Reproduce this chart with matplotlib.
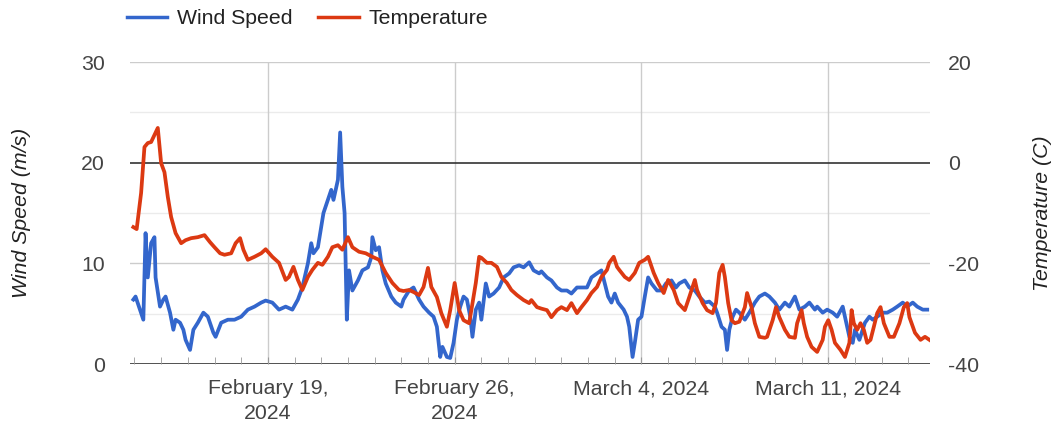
import matplotlib
matplotlib.use('Agg')
import matplotlib.pyplot as plt
import matplotlib.dates as mdates
from matplotlib.lines import Line2D
import pandas as pd

plt.rcParams['font.family'] = ['Liberation Sans', 'DejaVu Sans']
plt.rcParams['axes.unicode_minus'] = False

# readings, hours after 2024-02-13 20:00
start = pd.Timestamp('2024-02-13 20:00')

wind_hours = [3, 5, 9, 12, 14, 16, 19, 22, 23, 27,
              30, 32, 36, 39, 41, 45, 48, 50, 54, 57,
              61, 66, 70, 75, 77, 82, 88, 94, 100, 106,
              112, 118, 122, 128, 134, 140, 146, 151, 155, 160,
              163, 165, 169, 172, 174, 178, 181, 183, 187, 189,
              191, 193, 195, 197, 200, 205, 209, 214, 217, 218,
              221, 224, 227, 230, 235, 239, 244, 246, 251, 255,
              260, 264, 269, 273, 276, 279, 281, 285, 288, 291,
              294, 297, 300, 303, 306, 308, 311, 314, 316, 320,
              323, 327, 332, 336, 341, 345, 350, 354, 359, 363,
              368, 370, 375, 379, 384, 388, 393, 397, 402, 406,
              411, 415, 420, 424, 427, 430, 433, 436, 439, 444,
              447, 449, 452, 454, 457, 460, 463, 466, 469, 474,
              478, 482, 487, 491, 494, 499, 503, 508, 512, 517,
              521, 526, 528, 532, 535, 537, 539, 542, 545, 548,
              553, 557, 562, 566, 571, 575, 580, 584, 589, 593,
              598, 602, 607, 611, 616, 618, 623, 627, 632, 636,
              641, 643, 647, 650, 652, 656, 659, 661, 665, 668,
              672, 677, 681, 686, 690, 695, 699, 704, 708, 713,
              717]
wind_speed = [6.4, 6.7, 5.4, 4.4, 13.0, 8.6, 12.0, 12.6, 8.6, 5.7,
              6.4, 6.7, 5.1, 3.4, 4.4, 4.1, 3.4, 2.4, 1.4, 3.4,
              4.1, 5.1, 4.7, 3.1, 2.7, 4.1, 4.4, 4.4, 4.7, 5.4,
              5.7, 6.1, 6.3, 6.1, 5.4, 5.7, 5.4, 6.4, 7.6, 10.0,
              12.0, 11.0, 11.6, 13.6, 15.0, 16.3, 17.3, 16.3, 18.3, 23.0,
              17.6, 15.0, 4.4, 9.3, 7.3, 8.3, 9.3, 9.6, 10.6, 12.6,
              11.3, 11.6, 9.3, 8.0, 6.7, 6.1, 5.7, 6.4, 7.3, 7.6,
              6.4, 5.7, 5.1, 4.7, 3.7, 0.7, 1.7, 0.7, 0.6, 2.1,
              4.4, 5.7, 6.7, 6.4, 4.7, 2.7, 5.4, 6.1, 4.4, 8.0,
              6.7, 7.0, 7.6, 8.6, 9.0, 9.6, 9.8, 9.6, 10.1, 9.3,
              9.0, 9.2, 8.6, 8.3, 7.6, 7.3, 7.3, 7.0, 7.6, 7.6,
              7.6, 8.6, 9.0, 9.3, 8.0, 6.7, 6.1, 7.0, 6.1, 5.4,
              4.7, 3.7, 0.7, 2.1, 4.4, 4.7, 6.7, 8.6, 8.0, 7.3,
              7.3, 8.0, 8.3, 7.6, 8.0, 8.3, 7.6, 7.3, 6.7, 6.1,
              6.2, 5.7, 5.1, 3.7, 3.4, 1.4, 3.4, 4.7, 5.4, 5.1,
              4.4, 5.1, 6.1, 6.7, 7.0, 6.7, 6.1, 5.4, 6.1, 5.7,
              6.7, 5.4, 5.7, 6.1, 5.4, 5.7, 5.1, 5.4, 5.1, 4.7,
              5.7, 4.7, 2.7, 2.1, 3.4, 2.4, 3.4, 4.1, 4.7, 4.4,
              4.7, 5.1, 5.1, 5.4, 5.7, 6.1, 5.7, 6.1, 5.7, 5.4,
              5.4]

temp_hours = [3, 6, 10, 13, 16, 19, 22, 25, 28, 31,
              34, 37, 41, 46, 50, 55, 61, 67, 72, 76,
              81, 85, 91, 95, 99, 102, 106, 112, 118, 122,
              128, 134, 140, 143, 147, 151, 155, 160, 164, 169,
              173, 178, 182, 187, 191, 196, 200, 206, 212, 218,
              224, 230, 236, 242, 246, 251, 255, 260, 264, 268,
              271, 276, 280, 285, 288, 292, 296, 300, 305, 307,
              311, 314, 316, 321, 325, 330, 334, 339, 343, 348,
              354, 359, 361, 366, 370, 375, 379, 384, 388, 393,
              397, 402, 406, 411, 415, 420, 424, 429, 431, 435,
              438, 440, 445, 449, 454, 458, 463, 466, 471, 475,
              480, 484, 489, 493, 499, 503, 508, 510, 515, 519,
              524, 527, 530, 533, 535, 538, 541, 544, 548, 553,
              555, 559, 562, 566, 571, 573, 578, 581, 584, 589,
              593, 598, 600, 604, 606, 609, 613, 618, 623, 625,
              628, 631, 634, 639, 643, 647, 649, 651, 654, 657,
              660, 663, 666, 669, 672, 675, 678, 683, 687, 692,
              696, 699, 701, 706, 711, 715, 719]
temperature = [-12.8, -13.2, -6.0, 3.1, 3.9, 4.1, 5.5, 6.9, -0.1, -1.9,
               -6.8, -10.8, -14.0, -16.0, -15.4, -15.0, -14.8, -14.4, -15.8, -16.8,
               -18.0, -18.3, -18.0, -16.0, -15.0, -17.3, -19.3, -18.7, -18.0, -17.2,
               -18.7, -19.9, -23.3, -22.7, -20.7, -23.3, -25.3, -22.7, -21.3, -19.9,
               -20.3, -18.7, -16.8, -16.4, -17.3, -14.8, -16.8, -17.7, -18.0, -18.7,
               -19.3, -21.9, -23.9, -25.3, -25.5, -25.3, -25.7, -26.3, -24.7, -20.9,
               -24.7, -26.7, -29.9, -32.6, -29.3, -23.9, -29.3, -31.3, -31.9, -29.3,
               -23.9, -18.7, -18.9, -19.9, -19.9, -20.7, -22.7, -23.9, -25.3, -26.3,
               -27.3, -27.9, -27.3, -28.7, -29.0, -29.3, -30.7, -29.3, -28.7, -29.3,
               -27.9, -29.9, -28.7, -27.3, -25.9, -24.7, -22.7, -21.3, -19.9, -18.7,
               -20.7, -21.3, -22.7, -23.3, -21.9, -19.9, -19.3, -18.7, -21.9, -23.9,
               -25.9, -23.3, -25.3, -27.9, -29.3, -26.7, -23.3, -25.3, -27.9, -29.3,
               -29.9, -27.9, -21.9, -20.3, -22.7, -27.9, -31.3, -31.9, -31.6, -28.7,
               -25.9, -28.7, -31.9, -34.6, -34.8, -34.6, -31.3, -28.7, -30.7, -33.2,
               -34.6, -34.8, -31.9, -29.3, -31.9, -34.6, -36.6, -37.6, -35.2, -32.6,
               -31.3, -33.2, -35.8, -37.2, -38.6, -35.8, -29.3, -31.9, -33.2, -31.9,
               -33.2, -35.8, -35.2, -32.6, -29.9, -28.7, -31.9, -34.6, -34.6, -31.9,
               -28.7, -27.9, -30.7, -33.8, -35.2, -34.6, -35.2]

week_dates = ['2024-02-19', '2024-02-26', '2024-03-04', '2024-03-11']
week_labels = ['February 19,\n2024', 'February 26,\n2024', 'March 4, 2024', 'March 11, 2024']
wind_ticks = [0, 10, 20, 30]
temp_ticks = [-40, -20, 0, 20]

blue = '#3366cc'
red = '#dc3912'
txt = '#444444'
fs = 15.3

wind_t = start + pd.to_timedelta(wind_hours, unit='h')
temp_t = start + pd.to_timedelta(temp_hours, unit='h')
weeks = pd.to_datetime(week_dates)

fig = plt.figure(figsize=(10.53, 4.28), dpi=100)
ax = fig.add_axes([130/1053, 1-364/428, 800/1053, 302/428])
ax2 = ax.twinx()

# grid
for v in [5, 15, 25]:
    ax.axhline(v, color='#ebebeb', lw=1, zorder=0)
for v in [10, 30]:
    ax.axhline(v, color='#cccccc', lw=1, zorder=0)
for d in weeks:
    ax.axvline(d, color='#cccccc', lw=1, zorder=0)
ax.axhline(20, color='#333333', lw=1.2, zorder=1)
ax.axhline(0, color='#333333', lw=1.2, zorder=1)

ax.plot(wind_t, wind_speed, color=blue, lw=2.7, zorder=3)
ax2.plot(temp_t, temperature, color=red, lw=2.7, zorder=3)

ax.set_xlim(start, start + pd.Timedelta(hours=719.5))
ax.set_ylim(0, 30)
ax2.set_ylim(-40, 20)

for a in (ax, ax2):
    for s in a.spines.values():
        s.set_visible(False)

ax.set_yticks(wind_ticks)
ax.set_yticklabels([str(v) for v in wind_ticks])
ax2.set_yticks(temp_ticks)
ax2.set_yticklabels([str(v) for v in temp_ticks])
ax.tick_params(axis='y', length=0, pad=18, labelsize=fs, labelcolor=txt)
ax2.tick_params(axis='y', length=0, pad=13, labelsize=fs, labelcolor=txt)

ax.set_xticks(weeks)
ax.set_xticklabels(week_labels)
ax.xaxis.set_minor_locator(mdates.DayLocator())
ax.tick_params(axis='x', which='both', direction='in', length=5, color='#999999',
               pad=11, labelsize=fs, labelcolor=txt)
for lab in ax.get_xticklabels():
    lab.set_linespacing(1.35)

fig.text(22/1053, 1-213/428, 'Wind Speed (m/s)', rotation=90, style='italic',
         fontsize=fs, color='#222222', ha='center', va='center')
fig.text(1043/1053, 1-213/428, 'Temperature (C)', rotation=90, style='italic',
         fontsize=fs, color='#222222', ha='center', va='center')

handles = [Line2D([], [], color=blue, lw=2.5), Line2D([], [], color=red, lw=2.5)]
fig.legend(handles, ['Wind Speed', 'Temperature'], loc='center left',
           bbox_to_anchor=(127/1053, 1-19/428), ncol=2, frameon=False, fontsize=fs,
           handlelength=1.9, handletextpad=0.47, columnspacing=1.2,
           borderpad=0, borderaxespad=0, labelcolor='#222222')

fig.savefig('out.png', dpi=100)
